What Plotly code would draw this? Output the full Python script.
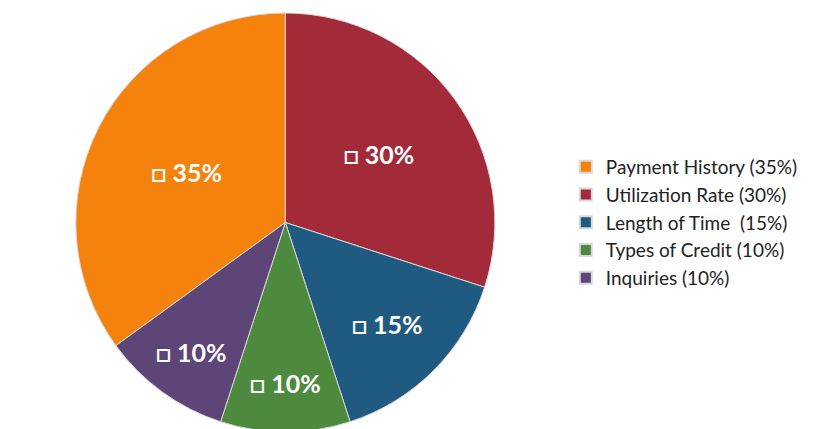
import plotly.graph_objects as go

labels = ['Payment History (35%)', 'Utilization Rate (30%)', 'Length of Time  (15%)',
          'Types of Credit (10%)', 'Inquiries (10%)']
values = [35, 30, 15, 10, 10]
slice_text = ['\u25a1 35%', '\u25a1 30%', '\u25a1 15%', '\u25a1 10%', '\u25a1 10%']
colors = ['#f5820d', '#a32a38', '#1f5a80', '#4e8a3e', '#5d4577']

fig = go.Figure(go.Pie(
  labels=labels,
  values=values,
  text=slice_text,
  texttemplate='<b>%{text}</b>',
  textposition='inside',
  insidetextorientation='horizontal',
  textfont=dict(color='white', size=25, family='Lato'),
  marker=dict(colors=colors, line=dict(color='#d8d8d8', width=1)),
  sort=False,
  direction='clockwise',
  rotation=234,
  domain=dict(x=[0.0, 0.67], y=[0.0, 1.0]),
  hoverinfo='label+percent',
))

fig.update_layout(
  width=823, height=429,
  margin=dict(l=5, r=5, t=5, b=5),
  paper_bgcolor='white',
  font=dict(family='Lato', size=19, color='#222'),
  legend=dict(x=0.68, y=0.5, yanchor='middle', itemsizing='constant',
              font=dict(size=19)),
)

fig.write_html("out.html")
